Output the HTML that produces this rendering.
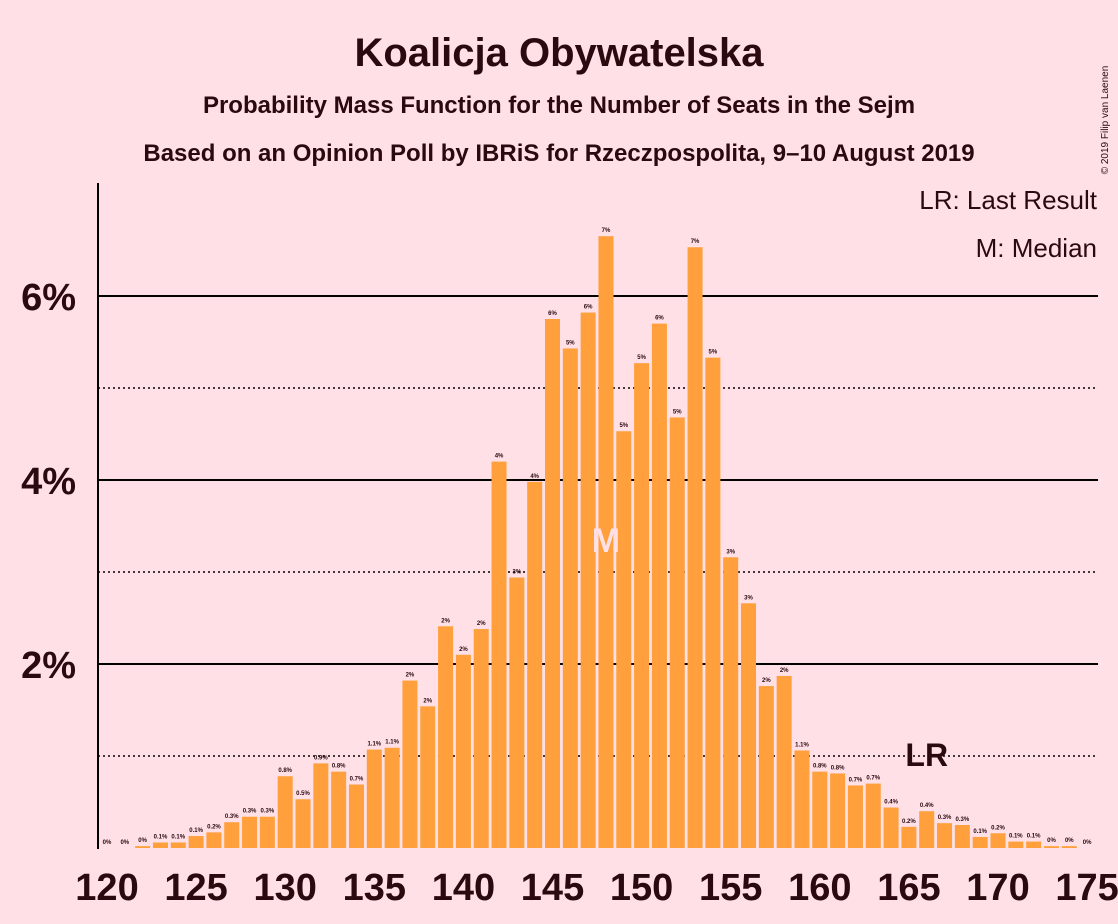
<!DOCTYPE html>
<html><head><meta charset="utf-8"><style>
body{margin:0;background:#ffe0e6;}
svg{display:block;font-family:"Liberation Sans",sans-serif;}
</style></head><body>
<svg id="c" width="1118" height="924">
<rect width="1118" height="924" fill="#ffe0e6"/>
<text x="559" y="66" text-anchor="middle" font-size="40" font-weight="bold" fill="#2a0a0f">Koalicja Obywatelska</text>
<text x="559" y="113" text-anchor="middle" font-size="24" font-weight="bold" fill="#2a0a0f">Probability Mass Function for the Number of Seats in the Sejm</text>
<text x="559" y="161" text-anchor="middle" font-size="24" font-weight="bold" fill="#2a0a0f">Based on an Opinion Poll by IBRiS for Rzeczpospolita, 9–10 August 2019</text>
<text x="1108" y="120" font-size="10" fill="#2a0a0f" transform="rotate(-90 1108 120)" text-anchor="middle">© 2019 Filip van Laenen</text>
<text x="1097" y="209" text-anchor="end" font-size="26" fill="#2a0a0f">LR: Last Result</text>
<text x="1097" y="257" text-anchor="end" font-size="26" fill="#2a0a0f">M: Median</text>
<g id="grid"></g><g id="bars"></g><g id="axes"></g>
</svg>
<script>
const seats=[120,121,122,123,124,125,126,127,128,129,130,131,132,133,134,135,136,137,138,139,140,141,142,143,144,145,146,147,148,149,150,151,152,153,154,155,156,157,158,159,160,161,162,163,164,165,166,167,168,169,170,171,172,173,174,175];
const probs=[0,0,0.02,0.06,0.06,0.13,0.17,0.28,0.34,0.34,0.78,0.53,0.92,0.83,0.69,1.07,1.09,1.82,1.54,2.41,2.10,2.38,4.2,2.94,3.98,5.75,5.43,5.82,6.65,4.53,5.27,5.70,4.68,6.53,5.33,3.16,2.66,1.76,1.87,1.06,0.83,0.81,0.68,0.70,0.44,0.23,0.40,0.27,0.25,0.12,0.16,0.07,0.07,0.02,0.02,0];
const yTicks=[2,4,6];
const yMinor=[1,3,5];
const xTicks=[120,125,130,135,140,145,150,155,160,165,170,175];
const median=148, lastResult=166;
const NS="http://www.w3.org/2000/svg";
const x=s=>107+(s-120)*17.82;
const y=v=>848-v*92;
function mk(t,a,p){const e=document.createElementNS(NS,t);for(const k in a)e.setAttribute(k,a[k]);p.appendChild(e);return e;}
const G=document.getElementById('grid'),B=document.getElementById('bars'),A=document.getElementById('axes');
yMinor.forEach(v=>{const l=mk('line',{x1:98,x2:1098,y1:y(v),y2:y(v),stroke:'#000','stroke-width':1.5,'stroke-dasharray':'2,3'},G);

});
yTicks.forEach(v=>{const l=mk('line',{x1:98,x2:1098,y1:y(v),y2:y(v),stroke:'#000','stroke-width':2},G);


const t=mk('text',{x:76,y:y(v)+14,'text-anchor':'end','font-size':38,'font-weight':'bold',fill:'#2a0a0f'},A);t.textContent=v+'%';

});
seats.forEach((s,i)=>{const v=probs[i];
const r=mk('rect',{x:x(s)-7.5,y:y(v),width:15,height:v*92,fill:'#ffa03c'},B);


const lab=v<0.05?'0%':(v<1.5?v.toFixed(1)+'%':Math.round(v)+'%');
const t=mk('text',{x:x(s),y:y(v)-4,'text-anchor':'middle','font-size':6,'font-weight':'bold',fill:'#2a0a0f'},B);t.textContent=lab;

});
const mi=seats.indexOf(median);
const m=mk('text',{x:x(median),y:y(probs[mi]/2)+10,'text-anchor':'middle','font-size':34,'font-weight':'bold',fill:'#ffe0e6'},B);m.textContent='M';


const li=seats.indexOf(lastResult);
const lr=mk('text',{x:x(lastResult),y:y(probs[li])-45,'text-anchor':'middle','font-size':32,'font-weight':'bold',fill:'#2a0a0f'},B);lr.textContent='LR';


const ax=mk('line',{x1:98,x2:98,y1:183,y2:849,stroke:'#000','stroke-width':2},A);


xTicks.forEach(s=>{const t=mk('text',{x:x(s),y:900,'text-anchor':'middle','font-size':38,'font-weight':'bold',fill:'#2a0a0f'},A);t.textContent=s;

});
</script>
</body></html>
